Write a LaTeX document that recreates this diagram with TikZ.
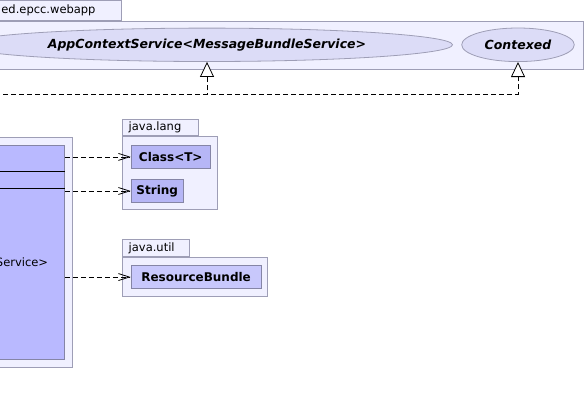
\documentclass[tikz,border=0pt]{standalone}
\usepackage{fontspec}
\setmainfont{DejaVu Sans}
\usetikzlibrary{arrows.meta,shapes.geometric,positioning}

\definecolor{pkgfill}{HTML}{F0F0FF}
\definecolor{pkgline}{HTML}{9E9EB6}
\definecolor{ifcfill}{HTML}{DCDCF7}
\definecolor{clsfill}{HTML}{B9B9FF}
\definecolor{depfill}{HTML}{B6B6F6}
\definecolor{rbfill}{HTML}{C8C8FC}
\definecolor{clsline}{HTML}{8585A6}

\begin{document}
\begin{tikzpicture}[x=1pt,y=-1pt,line width=0.8pt,
    pkg node/.style={rectangle, draw=pkgline, fill=pkgfill, inner sep=0pt},
    tab node/.style={pkg node, anchor=south west, inner xsep=6pt, align=left,
                     font=\fontsize{11.5}{13}\selectfont},
    class node/.style={rectangle, draw=clsline, fill=depfill, inner sep=0pt,
                       font=\fontsize{12}{14}\selectfont\bfseries},
    iface node/.style={ellipse, draw=pkgline, fill=ifcfill, inner sep=0pt,
                       font=\fontsize{12.5}{14}\selectfont\bfseries\itshape},
    dep line/.style={dash pattern=on 5pt off 3pt, -{Straight Barb[length=11pt,width=7pt]}},
    real line/.style={dash pattern=on 5pt off 3pt, -{Triangle[open,fill=white,length=15pt,width=14pt]}}]

  \useasboundingbox (0,0) rectangle (585,405);

  %webapp package%
  \node[pkg node, anchor=north west, minimum width=588pt, minimum height=48.3pt] (web) at (-5,20.7) {};
  \node[tab node, text width=114pt, minimum height=19.5pt] (webtab) at (web.north west) {ed.epcc.webapp};
  \node[iface node, minimum width=491pt, minimum height=33.4pt] (app) at (207,44.8) {AppContextService<MessageBundleService>};
  \node[iface node, minimum width=112.6pt, minimum height=33.6pt] (ctx) at (518,44.8) {Contexed};

  %left class%
  \node[pkg node, anchor=north west, minimum width=85pt, minimum height=230.3pt] (lpkg) at (-13,137) {};
  \node[class node, fill=clsfill, anchor=north west, minimum width=69pt, minimum height=214.3pt] (lcls) at (-5,145) {};
  \draw[line width=0.9pt] (lcls.west |- 0,171.3) -- (lcls.east |- 0,171.3);
  \draw[line width=0.9pt] (lcls.west |- 0,188.7) -- (lcls.east |- 0,188.7);
  \node[anchor=east, inner sep=0pt, font=\fontsize{11.5}{13}\selectfont] (lname) at (48.5,262) {Service>};

  %java.lang%
  \node[pkg node, anchor=north west, minimum width=95pt, minimum height=73pt] (lang) at (122.3,136) {};
  \node[tab node, text width=64pt, minimum height=16pt] (langtab) at (lang.north west) {java.lang};
  \node[class node, anchor=north west, minimum width=79.3pt, minimum height=23pt] (ct) at (130.7,145) {Class<T>};
  \node[class node, below=10.3pt of ct.south west, anchor=north west, minimum width=52.3pt, minimum height=23pt] (str) {String};

  %java.util%
  \node[pkg node, anchor=north west, minimum width=145pt, minimum height=39.3pt] (util) at (122.3,256.7) {};
  \node[tab node, text width=54.7pt, minimum height=16.7pt] (utiltab) at (util.north west) {java.util};
  \node[class node, fill=rbfill, anchor=north west, minimum width=130pt, minimum height=23.3pt] (rb) at (130.7,265) {ResourceBundle};

  \coordinate (src) at (-5,94.3);

  \path[dep line]
    (lcls.east |- ct) edge (ct)
    (lcls.east |- str) edge (str)
    (lcls.east |- rb) edge (rb);

  \draw[real line] (src) -| (ctx);
  \draw[real line] (src) -| (app);
\end{tikzpicture}
\end{document}
